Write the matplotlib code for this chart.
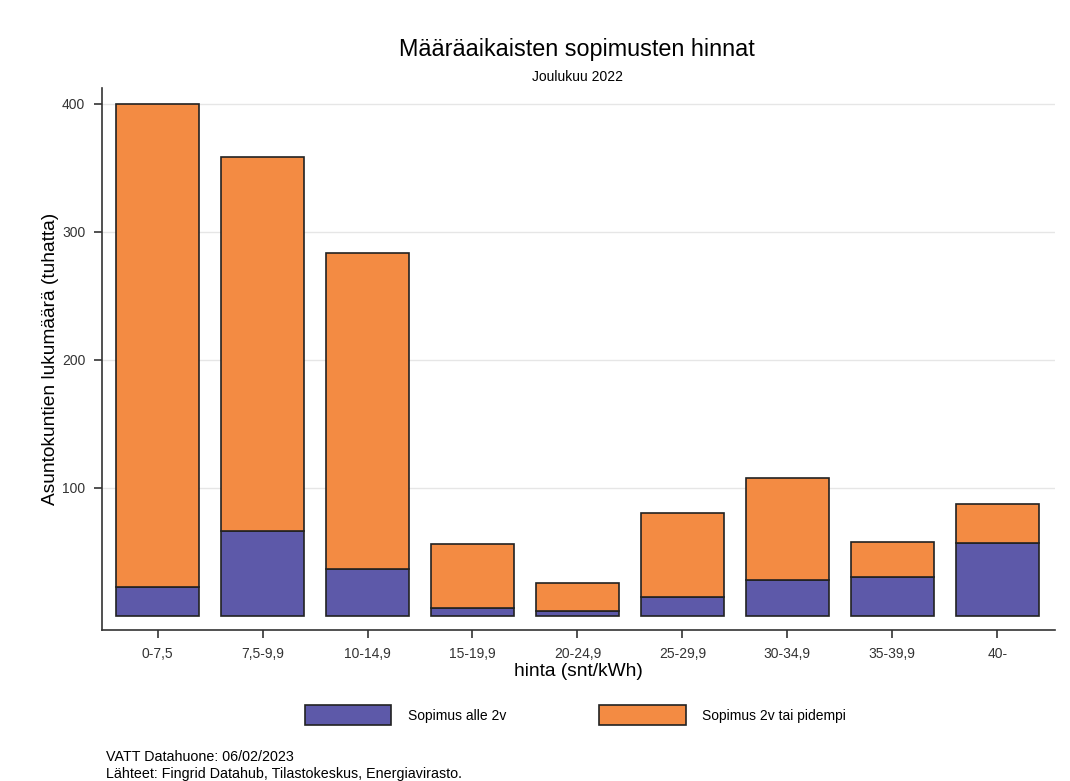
import matplotlib.pyplot as plt
import numpy as np

plt.rcParams['font.family'] = ['Liberation Sans', 'DejaVu Sans']

categories = ['0-7,5', '7,5-9,9', '10-14,9', '15-19,9', '20-24,9',
              '25-29,9', '30-34,9', '35-39,9', '40-']
# totals and short-contract share, thousands of households
totals = [400, 358, 283, 56, 26, 80.5, 108, 58, 87.5]
short = [22.5, 66.5, 36.5, 6.5, 3.5, 14.5, 28, 30.5, 57]
long_ = [t - s for t, s in zip(totals, short)]

blue = '#5d59a9'
orange = '#f38b43'
edge = '#222222'

fig = plt.figure(figsize=(10.7, 7.81), dpi=100)
ax = fig.add_axes([0.0953, 0.1934, 0.8907, 0.6936])

x = np.arange(len(categories))
ax.bar(x, short, width=0.79, color=blue, edgecolor=edge, linewidth=1.2,
       label='Sopimus alle 2v', zorder=3)
ax.bar(x, long_, width=0.79, bottom=short, color=orange, edgecolor=edge,
       linewidth=1.2, label='Sopimus 2v tai pidempi', zorder=3)

ax.set_xlim(-0.53, 8.55)
ax.set_ylim(-11, 412)
ax.set_yticks([100, 200, 300, 400])
ax.set_xticks(x)
ax.set_xticklabels(categories)
ax.grid(axis='y', color='#e6e6e6', linewidth=1, zorder=0)

for s in ['top', 'right']:
    ax.spines[s].set_visible(False)
for s in ['left', 'bottom']:
    ax.spines[s].set_color('#333333')
    ax.spines[s].set_linewidth(1.2)
ax.tick_params(axis='both', colors='#333333', labelcolor='#333333',
               labelsize=10, length=6, width=1.2, pad=6)

ax.set_ylabel('Asuntokuntien lukumäärä (tuhatta)', fontsize=13.8)
ax.yaxis.set_label_coords(-0.045, 0.5)
ax.set_xlabel('hinta (snt/kWh)', fontsize=13.8, labelpad=2)

fig.text(0.5395, 0.936, 'Määräaikaisten sopimusten hinnat', ha='center',
         va='center', fontsize=16.8)
fig.text(0.5395, 0.901, 'Joulukuu 2022', ha='center', va='center',
         fontsize=10)

fig.legend(loc='center', bbox_to_anchor=(0.538, 0.0845), ncol=2,
           frameon=False, fontsize=10, handlelength=6.2, handleheight=1.73,
           handletextpad=1.22, columnspacing=6.7)

fig.text(0.099, 0.031, 'VATT Datahuone: 06/02/2023', fontsize=10.3,
         va='center')
fig.text(0.099, 0.009, 'Lähteet: Fingrid Datahub, Tilastokeskus, Energiavirasto.',
         fontsize=10.3, va='center')

fig.savefig('out.png', dpi=100)
